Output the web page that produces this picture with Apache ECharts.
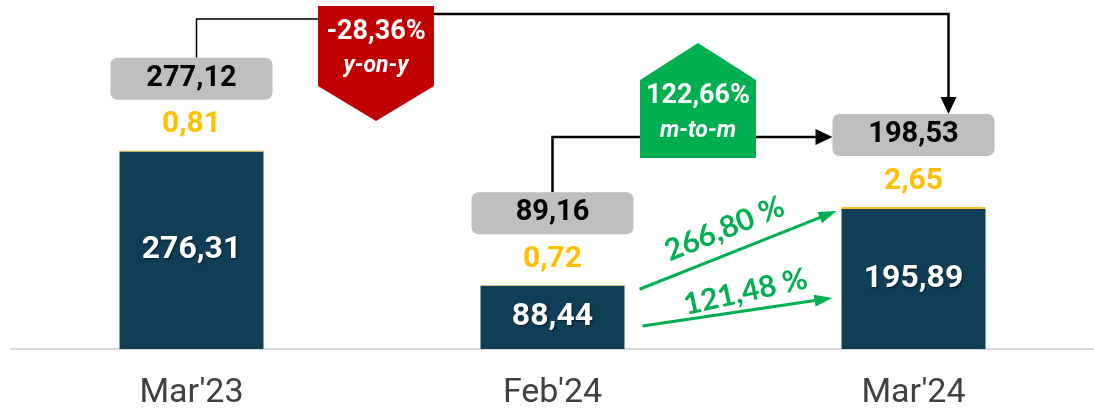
<!DOCTYPE html>
<html>
<head>
<meta charset="utf-8">
<script src="https://cdn.jsdelivr.net/npm/echarts@6/dist/echarts.min.js"></script>
<style>
  html, body { margin: 0; padding: 0; background: #fff; }
  #chart { width: 1094px; height: 408px; }
</style>
</head>
<body>
<div id="chart"></div>
<script>
const categories = ["Mar'23", "Feb'24", "Mar'24"];
const baseValues = [276.31, 88.44, 195.89];
const topValues = [0.81, 0.72, 2.65];
const totalValues = [277.12, 89.16, 198.53];
const yoyChange = ['-28,36%', 'y-on-y'];
const momChange = ['122,66%', 'm-to-m'];
const growthLabels = ['266,80 %', '121,48 %'];

const FONT = "Roboto, 'DejaVu Sans Condensed', sans-serif";
const fmt = v => v.toFixed(2).replace('.', ',');

const chart = echarts.init(document.getElementById('chart'));

const option = {
    animation: false,
    grid: { left: 11, right: 0, top: 0, bottom: 59, outerBoundsMode: 'none' },
    xAxis: {
        type: 'category',
        data: categories,
        axisLine: { lineStyle: { color: '#d9d9d9', width: 2 } },
        axisTick: { show: false },
        axisLabel: { color: '#404040', fontSize: 34, fontFamily: FONT, margin: 27 }
    },
    yAxis: { type: 'value', min: 0, max: 488, show: false },
    series: [
        {
            name: 'base',
            type: 'bar',
            stack: 'all',
            barWidth: 144,
            data: baseValues,
            itemStyle: { color: '#0f3e56' },
            label: {
                show: true,
                position: 'inside',
                formatter: p => fmt(p.value),
                color: '#fff',
                fontSize: 32,
                fontWeight: 'bold',
                fontFamily: FONT,
                textShadowColor: 'rgba(0,0,0,0.6)',
                textShadowBlur: 2,
                textShadowOffsetX: 1,
                textShadowOffsetY: 1
            }
        },
        {
            name: 'top',
            type: 'bar',
            stack: 'all',
            barWidth: 144,
            data: topValues,
            itemStyle: { color: '#f5c02a' },
            label: {
                show: true,
                position: 'top',
                distance: 1,
                formatter: p => `{t|${fmt(totalValues[p.dataIndex])}}\n{v|${fmt(p.value)}}`,
                rich: {
                    t: {
                        backgroundColor: '#bfbfbf', borderRadius: 7,
                        width: 162, height: 42, lineHeight: 42, align: 'center',
                        color: '#000', fontSize: 29, fontWeight: 'bold', fontFamily: FONT
                    },
                    v: {
                        color: '#ffc000', fontSize: 30, fontWeight: 'bold', fontFamily: FONT,
                        lineHeight: 50, align: 'center'
                    }
                }
            }
        }
    ]
};

chart.setOption(option);

// annotations: connectors, badges, growth arrows
const px = (i, v) => chart.convertToPixel({ xAxisIndex: 0, yAxisIndex: 0 }, [i, v]);
const [x0, t0] = px(0, totalValues[0]);
const [x1, t1] = px(1, totalValues[1]);
const [x2, t2] = px(2, totalValues[2]);
const [, ybase] = px(1, 0);
const boxTop = t => t - 93;

const arrowHead = (from, to, len, half, color) => {
    const dx = to[0] - from[0], dy = to[1] - from[1];
    const d = Math.sqrt(dx * dx + dy * dy);
    const ux = dx / d, uy = dy / d;
    const bx = to[0] - ux * len, by = to[1] - uy * len;
    return {
        type: 'polygon',
        shape: { points: [[bx - uy * half, by + ux * half], [bx + uy * half, by - ux * half], to] },
        style: { fill: color }
    };
};
const arrowLine = (from, to, width, len, half, color) => {
    const dx = to[0] - from[0], dy = to[1] - from[1];
    const d = Math.sqrt(dx * dx + dy * dy);
    const end = [to[0] - dx / d * (len - 2), to[1] - dy / d * (len - 2)];
    return [
        { type: 'line', shape: { x1: from[0], y1: from[1], x2: end[0], y2: end[1] },
          style: { stroke: color, lineWidth: width } },
        arrowHead(from, to, len, half, color)
    ];
};
const badgeText = (x, y, text, size, italic) => ({
    type: 'text', x: x, y: y,
    style: {
        text: text, fill: '#fff', align: 'center', verticalAlign: 'middle',
        font: `${italic ? 'italic ' : ''}bold ${size}px ${FONT}`,
        shadowColor: 'rgba(0,0,0,0.5)', shadowBlur: 2, shadowOffsetX: 1, shadowOffsetY: 1
    }
});

const cx = (x0 + x1) / 2 + 4;
const gx = (x1 + x2) / 2 - 35;
const mY = 137;

const elements = [];
// y-on-y connector
elements.push({ type: 'polyline', shape: { points: [[x0 + 5, boxTop(t0)], [x0 + 5, 19], [cx - 58, 19]] },
    style: { stroke: '#000', lineWidth: 1.5, fill: null } });
elements.push({ type: 'polyline', shape: { points: [[cx + 58, 14], [x2 + 35, 14], [x2 + 35, boxTop(t2) - 14]] },
    style: { stroke: '#000', lineWidth: 2.5, fill: null } });
elements.push(arrowHead([x2 + 35, 14], [x2 + 35, boxTop(t2)], 17, 8, '#000'));
elements.push({ type: 'polygon',
    shape: { points: [[cx - 58, 6], [cx + 58, 6], [cx + 58, 86], [cx, 121], [cx - 58, 86]] },
    style: { fill: '#c00000' } });
elements.push(badgeText(cx, 32, yoyChange[0], 27, false));
elements.push(badgeText(cx, 66, yoyChange[1], 23, true));

// m-to-m connector
elements.push({ type: 'polyline', shape: { points: [[x1, boxTop(t1)], [x1, mY], [gx - 58, mY]] },
    style: { stroke: '#000', lineWidth: 2.5, fill: null } });
elements.push(...arrowLine([gx + 58, mY], [x2 - 81, mY], 2.5, 17, 8, '#000'));
elements.push({ type: 'polygon',
    shape: { points: [[gx - 58, 80], [gx, 43], [gx + 58, 80], [gx + 58, 158], [gx - 58, 158]] },
    style: { fill: '#00b050' } });
elements.push(badgeText(gx, 96, momChange[0], 27, false));
elements.push(badgeText(gx, 131, momChange[1], 23, true));

// growth arrows
elements.push(...arrowLine([x1 + 87, t1 + 4], [x2 - 77, t2 + 4], 3, 18, 6, '#00b050'));
elements.push(...arrowLine([x1 + 90, ybase - 23], [x2 - 81, ybase - 51], 3, 18, 6, '#00b050'));
elements.push({ type: 'text', x: x1 + 172, y: 229, rotation: 22 * Math.PI / 180,
    style: { text: growthLabels[0], fill: '#00b050', align: 'center', verticalAlign: 'middle',
             font: "bold 30px Lato, 'Open Sans', sans-serif" } });
elements.push({ type: 'text', x: x1 + 193, y: 292, rotation: 12.5 * Math.PI / 180,
    style: { text: growthLabels[1], fill: '#00b050', align: 'center', verticalAlign: 'middle',
             font: "bold 30px Lato, 'Open Sans', sans-serif" } });

chart.setOption({ graphic: { elements: elements } });
</script>
</body>
</html>
